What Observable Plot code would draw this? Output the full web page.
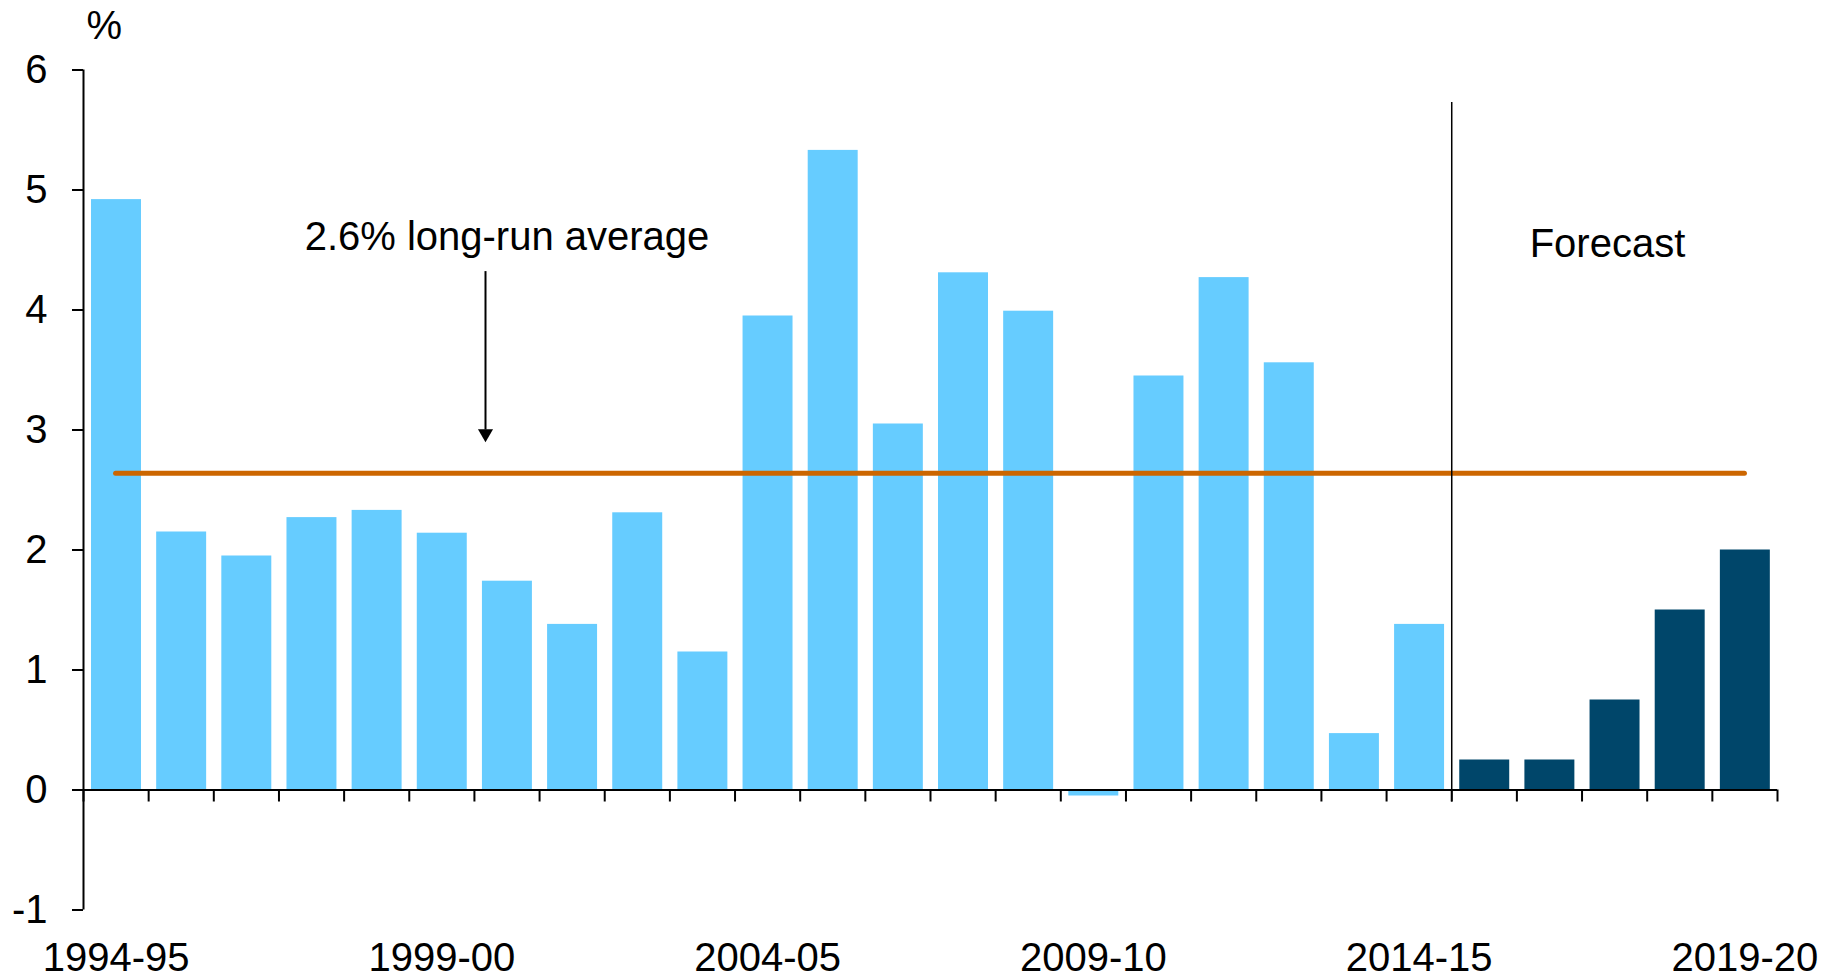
<!DOCTYPE html>
<html>
<head>
<meta charset="utf-8">
<script src="https://cdn.jsdelivr.net/npm/d3@7"></script>
<script src="https://cdn.jsdelivr.net/npm/@observablehq/plot@0.6"></script>
<style>
  html, body { margin: 0; padding: 0; background: #fff; }
  #chart svg { display: block; }
</style>
</head>
<body>
<div id="chart"></div>
<script>
const categories = ["1994-95","1995-96","1996-97","1997-98","1998-99","1999-00","2000-01","2001-02","2002-03","2003-04","2004-05","2005-06","2006-07","2007-08","2008-09","2009-10","2010-11","2011-12","2012-13","2013-14","2014-15","2015-16","2016-17","2017-18","2018-19","2019-20"];
const values = [4.92, 2.15, 1.95, 2.27, 2.33, 2.14, 1.74, 1.38, 2.31, 1.15, 3.95, 5.33, 3.05, 4.31, 3.99, -0.05, 3.45, 4.27, 3.56, 0.47, 1.38, 0.25, 0.25, 0.75, 1.50, 2.00];
const forecastStart = "2015-16";
const longRunAverage = 2.64;
const yTicks = [-1, 0, 1, 2, 3, 4, 5, 6];
const xTickLabels = ["1994-95", "1999-00", "2004-05", "2009-10", "2014-15", "2019-20"];
const averageLabel = ["2.6% long-run average"];
const forecastLabel = ["Forecast"];
const unitLabel = ["%"];

const lightBlue = "#66CCFF";
const darkBlue = "#00466A";
const orange = "#CC6600";
const fs = 40;

const fIdx = categories.indexOf(forecastStart);
const data = categories.map((c, i) => ({cat: c, i, value: values[i], forecast: i >= fIdx}));
const n = categories.length;

const chart = Plot.plot({
  width: 1837,
  height: 980,
  marginLeft: 83,
  marginRight: 60,
  marginTop: 69.5,
  marginBottom: 70.5,
  style: {fontFamily: "'Liberation Sans', Arial, sans-serif", fontSize: fs + "px", color: "#000", background: "#fff"},
  x: {type: "linear", domain: [0, n], axis: null},
  y: {domain: [-1, 6], axis: null},
  marks: [
    Plot.rectY(data, {
      x1: d => d.i + 0.123, x2: d => d.i + 0.89,
      y1: 0, y2: "value",
      fill: d => d.forecast ? darkBlue : lightBlue
    }),
    Plot.ruleY([longRunAverage], {x1: 0.5, x2: n - 0.5, stroke: orange, strokeWidth: 5, strokeLinecap: "round"}),
    // axes
    Plot.ruleX([0], {y1: -1, y2: 6, stroke: "#000", strokeWidth: 2}),
    Plot.ruleY([0], {x1: 0, x2: n, stroke: "#000", strokeWidth: 2}),
    Plot.ruleX(d3.range(0, n + 1), {y1: 0, y2: -0.1, stroke: "#000", strokeWidth: 2}),
    Plot.axisY(yTicks, {tickSize: 11, tickPadding: 25, strokeWidth: 2, fontSize: fs, tickFormat: d => String(d), label: null}),
    Plot.axisX(xTickLabels.map(c => categories.indexOf(c) + 0.5), {
      tickSize: 0, tickPadding: 33, fontSize: fs,
      tickFormat: v => categories[Math.floor(v)], label: null
    }),
    // forecast divider
    Plot.ruleX([fIdx], {y1: -0.1, y2: 5.73, stroke: "#000", strokeWidth: 1.5}),
    // annotations
    Plot.text(averageLabel, {x: 6.5, y: 4.5, text: d => d, lineAnchor: "bottom", textAnchor: "middle", fontSize: fs, fill: "#000"}),
    Plot.ruleX([6.17], {y1: 4.32, y2: 3.0, stroke: "#000", strokeWidth: 2}),
    Plot.dot([6.17], {x: d => d, y: 2.97, symbol: "triangle", rotate: 180, r: 5.6, fill: "#000", stroke: "none"}),
    Plot.text(forecastLabel, {x: 23.39, y: 4.44, text: d => d, lineAnchor: "bottom", textAnchor: "middle", fontSize: fs, fill: "#000"}),
    Plot.text(unitLabel, {frameAnchor: "top-left", text: d => d, dx: 3, dy: -31.5, lineAnchor: "bottom", textAnchor: "start", fontSize: fs, fill: "#000"})
  ]
});
document.getElementById("chart").appendChild(chart);
</script>
</body>
</html>
